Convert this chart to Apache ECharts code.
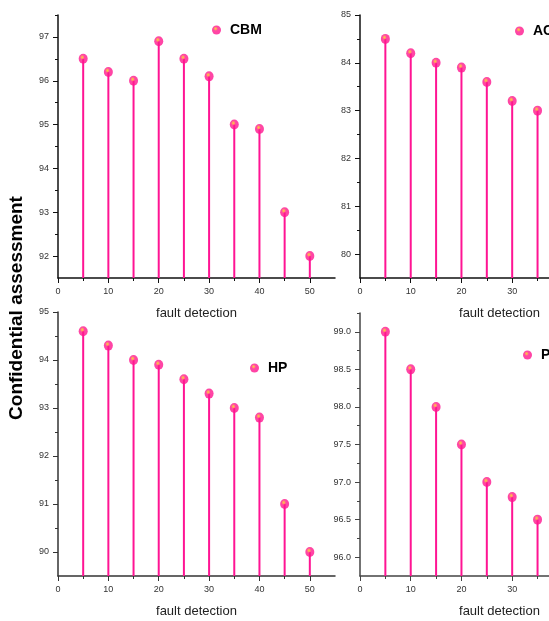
<!DOCTYPE html>
<html lang="en">
<head>
    <meta charset="UTF-8">
    <title>Confidential assessment</title>
    <script src="https://cdn.jsdelivr.net/npm/echarts@6/dist/echarts.min.js"></script>
    <style>
        html, body { margin: 0; padding: 0; background: #fff; }
        #main { width: 549px; height: 621px; }
    </style>
</head>
<body>
    <div id="main"></div>
    <script>
        // fault detection steps (x)
        var xVals = [5, 10, 15, 20, 25, 30, 35, 40, 45, 50];
        var xLabels = [0, 10, 20, 30, 40, 50];
        var xMinor = [5, 15, 25, 35, 45];

        // series values
        var cbm = [96.5, 96.2, 96.0, 96.9, 96.5, 96.1, 95.0, 94.9, 93.0, 92.0];
        var ac = [84.5, 84.2, 84.0, 83.9, 83.6, 83.2, 83.0];
        var hp = [94.6, 94.3, 94.0, 93.9, 93.6, 93.3, 93.0, 92.8, 91.0, 90.0];
        var pv = [99.0, 98.5, 98.0, 97.5, 97.0, 96.8, 96.5];

        // y tick labels
        var cbmTicks = [92, 93, 94, 95, 96, 97];
        var acTicks = [80, 81, 82, 83, 84, 85];
        var hpTicks = [90, 91, 92, 93, 94, 95];
        var pTicks = [96.0, 96.5, 97.0, 97.5, 98.0, 98.5, 99.0];

        var font = 'Liberation Sans, Arial, sans-serif';
        var pink = '#ff1493';
        var dot = {
            type: 'radial', x: 0.4, y: 0.35, r: 0.6,
            colorStops: [
                { offset: 0, color: '#ffc800' },
                { offset: 0.2, color: '#ff7a48' },
                { offset: 0.42, color: '#ff1a8c' },
                { offset: 1, color: '#ff1490' }
            ]
        };

        // one entry per panel
        var panels = [
            { name: 'CBM', data: cbm, ticks: cbmTicks, min: 91.5, max: 97.5, step: 1, digits: 0,
              grid: { left: 58, top: 15, width: 277, height: 263 }, axis: '#111',
              legend: { left: 207, top: 18 } },
            { name: 'AC', data: ac, ticks: acTicks, min: 79.5, max: 85, step: 1, digits: 0,
              grid: { left: 360, top: 15, width: 279, height: 263 }, axis: '#111',
              legend: { left: 510, top: 19 } },
            { name: 'HP', data: hp, ticks: hpTicks, min: 89.5, max: 95, step: 1, digits: 0,
              grid: { left: 58, top: 312, width: 277, height: 264 }, axis: '#333',
              legend: { left: 245, top: 356 } },
            { name: 'P', data: pv, ticks: pTicks, min: 95.75, max: 99.25, step: 0.5, digits: 1,
              grid: { left: 360, top: 313, width: 279, height: 263 }, axis: '#444',
              legend: { left: 518, top: 343 } }
        ];

        var myChart = echarts.init(document.getElementById('main'));

        var grids = [], xAxes = [], yAxes = [], series = [], legends = [];
        panels.forEach(function (p, i) {
            // right-hand panels run past the edge of the picture
            p.grid.outerBoundsMode = 'none';
            p.grid.containLabel = false;
            grids.push(p.grid);

            // minor ticks sit between the major ones
            var yMinor = [];
            p.ticks.forEach(function (t) {
                var m = t + p.step / 2;
                if (m <= p.max + 1e-9) yMinor.push(m);
            });

            xAxes.push({
                type: 'value', gridIndex: i, min: 0, max: 55,
                name: 'fault detection', nameLocation: 'middle', nameGap: 29,
                nameTextStyle: { fontSize: 13, color: '#222', fontFamily: font },
                axisLine: { show: true, lineStyle: { color: p.axis, width: 1.5 } },
                axisTick: { show: true, length: 5, customValues: xLabels, lineStyle: { color: p.axis } },
                axisLabel: { customValues: xLabels, fontSize: 9, color: '#333', margin: 9, fontFamily: font },
                splitLine: { show: false }
            });
            xAxes.push({
                type: 'value', gridIndex: i, min: 0, max: 55, position: 'bottom',
                axisLine: { show: false },
                axisTick: { show: true, length: 3, customValues: xMinor, lineStyle: { color: p.axis } },
                axisLabel: { show: false },
                splitLine: { show: false }
            });

            yAxes.push({
                type: 'value', gridIndex: i, min: p.min, max: p.max,
                axisLine: { show: true, lineStyle: { color: p.axis, width: 1.5 } },
                axisTick: { show: true, length: 5, customValues: p.ticks, lineStyle: { color: p.axis } },
                axisLabel: {
                    customValues: p.ticks, fontSize: 9, color: '#333', margin: 9, fontFamily: font,
                    formatter: function (v) { return Number(v).toFixed(p.digits); }
                },
                splitLine: { show: false }
            });
            yAxes.push({
                type: 'value', gridIndex: i, min: p.min, max: p.max, position: 'left',
                axisLine: { show: false },
                axisTick: { show: true, length: 3, customValues: yMinor, lineStyle: { color: p.axis } },
                axisLabel: { show: false },
                splitLine: { show: false }
            });

            var pts = p.data.map(function (v, k) { return [xVals[k], v]; });

            // stems
            series.push({
                type: 'bar', name: p.name + ' stem', xAxisIndex: i * 2, yAxisIndex: i * 2,
                data: pts, barWidth: 2, itemStyle: { color: pink }, silent: true
            });
            // heads
            series.push({
                type: 'scatter', name: p.name, xAxisIndex: i * 2, yAxisIndex: i * 2,
                data: pts, symbol: 'circle', symbolSize: [9, 10],
                itemStyle: { color: dot }, z: 5
            });

            legends.push({
                data: [p.name], left: p.legend.left, top: p.legend.top,
                icon: 'circle', itemWidth: 9, itemHeight: 10,
                textStyle: { fontSize: 14, fontWeight: 'bold', color: '#000', fontFamily: font, padding: [0, 0, 0, 4] }
            });
        });

        var option = {
            animation: false,
            grid: grids,
            xAxis: xAxes,
            yAxis: yAxes,
            legend: legends,
            series: series,
            graphic: [{
                type: 'text', x: 17, y: 308, rotation: Math.PI / 2,
                style: {
                    text: 'Confidential assessment', fontSize: 19, fontWeight: 'bold',
                    fontFamily: font, fill: '#000', align: 'center', verticalAlign: 'middle'
                }
            }]
        };

        myChart.setOption(option);
    </script>
</body>
</html>
